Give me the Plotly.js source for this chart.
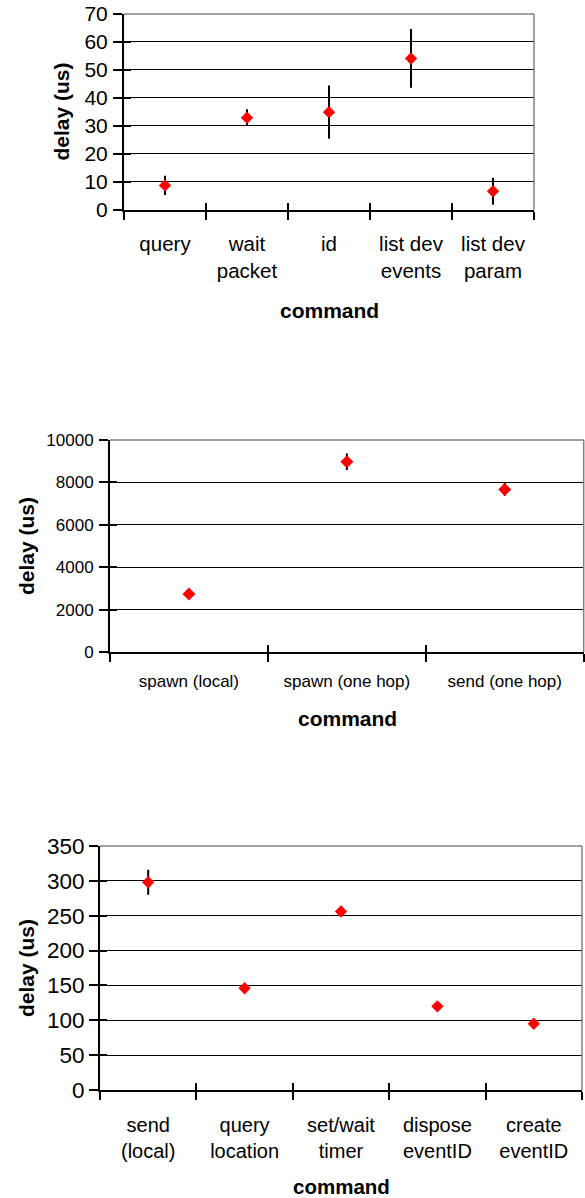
<!DOCTYPE html>
<html>
<head>
<meta charset="utf-8">
<script src="https://cdn.plot.ly/plotly-3.0.1.min.js"></script>
<style>html,body{margin:0;padding:0;background:#fff;}#chart{width:585px;height:1198px;}</style>
</head>
<body>
<div id="chart"></div>
<script>
// ---- data ----
const commands1 = ['query', 'wait<br>packet', 'id', 'list dev<br>events', 'list dev<br>param'];
const delay1 = [8.7, 32.9, 34.9, 54.1, 6.6];
const err1 = [3.4, 3.0, 9.5, 10.5, 4.8];

const commands2 = ['spawn (local)', 'spawn (one hop)', 'send (one hop)'];
const delay2 = [2740, 8970, 7670];
const err2 = [120, 390, 300];

const commands3 = ['send<br>(local)', 'query<br>location', 'set/wait<br>timer', 'dispose<br>eventID', 'create<br>eventID'];
const delay3 = [298, 146, 256, 120, 95];
const err3 = [18, 3, 5, 3, 4];

const yRange1 = [0, 70], yStep1 = 10;
const yRange2 = [0, 10000], yStep2 = 2000;
const yRange3 = [0, 350], yStep3 = 50;

const FONT = 'Liberation Sans, Arial, sans-serif';

function pointTrace(cats, vals, errs, xa, ya, size) {
  return {
    type: 'scatter', mode: 'markers', x: cats, y: vals,
    xaxis: xa, yaxis: ya, cliponaxis: false, showlegend: false,
    marker: {symbol: 'diamond', size: size, color: '#ff0000'},
    error_y: {type: 'data', array: errs, visible: true, color: '#000', thickness: 2, width: 0}
  };
}
function dummy(xa, ya) {
  return {type: 'scatter', x: [], y: [], xaxis: xa, yaxis: ya, showlegend: false, hoverinfo: 'skip'};
}
function boundaries(n) { const b = []; for (let i = 0; i <= n; i++) b.push(i - 0.5); return b; }

function mainX(n, dom, anchor, fs, standoff) {
  return {domain: dom, anchor: anchor, type: 'category', range: [-0.5, n - 0.5],
    showline: true, linecolor: '#000', linewidth: 2, showgrid: false, zeroline: false,
    ticks: 'outside', tickson: 'boundaries', ticklen: 8, tickwidth: 2, tickcolor: '#000',
    ticklabelstandoff: standoff,
    tickfont: {family: FONT, size: fs, color: '#000'}, fixedrange: true};
}
function overX(n, over, anchor) {
  return {overlaying: over, anchor: anchor, type: 'linear', range: [-0.5, n - 0.5],
    tickmode: 'array', tickvals: boundaries(n), showticklabels: false,
    ticks: 'inside', ticklen: 7, tickwidth: 2, tickcolor: '#000',
    showline: false, showgrid: false, zeroline: false};
}
function mainY(rng, step, dom, anchor, fs, standoff) {
  return {domain: dom, anchor: anchor, range: rng, tickmode: 'linear', tick0: 0, dtick: step,
    tickformat: 'd', exponentformat: 'none',
    showline: true, linecolor: '#000', linewidth: 2, showgrid: true, gridcolor: '#000', gridwidth: 1,
    zeroline: false, ticks: 'outside', ticklen: 9, tickwidth: 2, tickcolor: '#000',
    ticklabelstandoff: standoff,
    tickfont: {family: FONT, size: fs, color: '#000'}, fixedrange: true};
}
function overY(rng, step, over, anchor) {
  return {overlaying: over, anchor: anchor, range: rng, tickmode: 'linear', tick0: 0, dtick: step,
    showticklabels: false, ticks: 'inside', ticklen: 7, tickwidth: 2, tickcolor: '#000',
    showline: false, showgrid: false, zeroline: false};
}
function border(xa, ya) {
  return [
    {type: 'line', xref: xa + ' domain', yref: ya + ' domain', x0: 0, x1: 1, y0: 1, y1: 1,
     line: {color: '#808080', width: 1.5}, layer: 'above'},
    {type: 'line', xref: xa + ' domain', yref: ya + ' domain', x0: 1, x1: 1, y0: 0, y1: 1,
     line: {color: '#808080', width: 1.5}, layer: 'above'}
  ];
}
function ann(text, x, y, angle, size) {
  return {text: '<b>' + text + '</b>', xref: 'paper', yref: 'paper', x: x, y: y,
    xanchor: 'center', yanchor: 'middle', showarrow: false, textangle: angle, borderpad: 0,
    font: {family: FONT, size: size, color: '#000'}};
}

const W = 585, H = 1198;
const px = v => v / W;
const py = v => 1 - v / H;

const data = [
  pointTrace(commands1, delay1, err1, 'x', 'y', 9.5),
  pointTrace(commands2, delay2, err2, 'x2', 'y2', 10),
  pointTrace(commands3, delay3, err3, 'x3', 'y3', 9.5),
  dummy('x4', 'y4'), dummy('x5', 'y5'), dummy('x6', 'y6')
];

const layout = {
  width: W, height: H, margin: {l: 0, r: 0, t: 0, b: 0},
  paper_bgcolor: '#fff', plot_bgcolor: '#fff', showlegend: false,
  font: {family: FONT, color: '#000'},
  xaxis: mainX(commands1.length, [px(124), px(534)], 'y', 20.5, 15),
  yaxis: mainY(yRange1, yStep1, [py(209.7), py(14)], 'x', 21, 1),
  xaxis2: mainX(commands2.length, [px(110), px(583.7)], 'y2', 17, 13),
  yaxis2: mainY(yRange2, yStep2, [py(652), py(440)], 'x2', 17, 2),
  xaxis3: mainX(commands3.length, [px(100), px(582)], 'y3', 20, 16),
  yaxis3: mainY(yRange3, yStep3, [py(1090), py(846)], 'x3', 22.5, 0),
  xaxis4: overX(commands1.length, 'x', 'y4'),
  yaxis4: overY(yRange1, yStep1, 'y', 'x4'),
  xaxis5: overX(commands2.length, 'x2', 'y5'),
  yaxis5: overY(yRange2, yStep2, 'y2', 'x5'),
  xaxis6: overX(commands3.length, 'x3', 'y6'),
  yaxis6: overY(yRange3, yStep3, 'y3', 'x6'),
  shapes: [].concat(border('x', 'y'), border('x2', 'y2'), border('x3', 'y3')),
  annotations: [
    ann('command', px(329), py(310), 0, 21),
    ann('delay (us)', px(61.7), py(111.9), -90, 21),
    ann('command', px(347), py(718), 0, 21),
    ann('delay (us)', px(26), py(546), -90, 21),
    ann('command', px(341), py(1186), 0, 20.5),
    ann('delay (us)', px(26), py(968), -90, 21)
  ]
};

Plotly.newPlot('chart', data, layout, {staticPlot: true, displayModeBar: false});
</script>
</body>
</html>
